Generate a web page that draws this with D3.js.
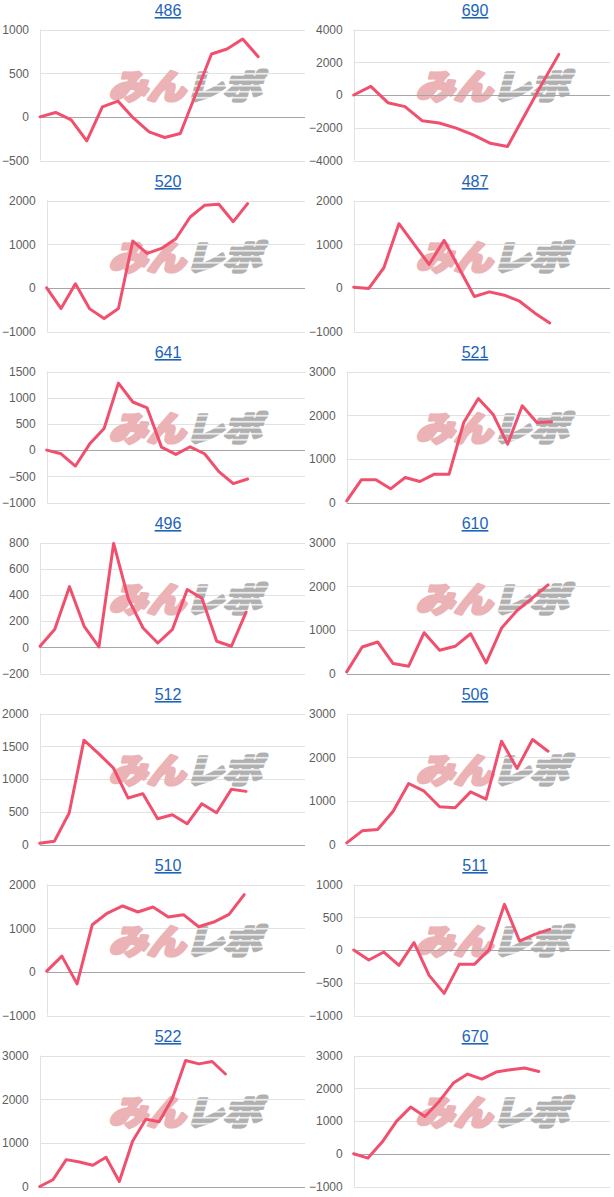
<!DOCTYPE html>
<html><head><meta charset="utf-8">
<script src="https://cdn.jsdelivr.net/npm/d3@7"></script>
<style>
html,body{margin:0;padding:0;background:#fff;}
svg{display:block;}
</style></head>
<body>
<svg id="chart" width="614" height="1197"></svg>
<script>
// ---- data ----
const titles = ["486","690","520","487","641","521","496","610","512","506","510","511","522","670"];
// number of x intervals shown on each chart's horizontal axis
const xSpans = [17,15,18,17,18,18,18,17,18,17,17,17,20,18];
const ticks486 = [-500,0,500,1000];
const ticks690 = [-4000,-2000,0,2000,4000];
const ticks520 = [-1000,0,1000,2000];
const ticks487 = [-1000,0,1000,2000];
const ticks641 = [-1000,-500,0,500,1000,1500];
const ticks521 = [0,1000,2000,3000];
const ticks496 = [-200,0,200,400,600,800];
const ticks610 = [0,1000,2000,3000];
const ticks512 = [0,500,1000,1500,2000];
const ticks506 = [0,1000,2000,3000];
const ticks510 = [-1000,0,1000,2000];
const ticks511 = [-1000,-500,0,500,1000];
const ticks522 = [0,1000,2000,3000];
const ticks670 = [-1000,0,1000,2000,3000];

const v486 = [0,50,-34,-275,115,180,-15,-172,-237,-191,265,719,777,891,689];
const v690 = [0,530,-470,-710,-1570,-1710,-2020,-2440,-2950,-3150,-1250,650,2480];
const v520 = [0,-474,92,-482,-704,-474,1071,788,903,1125,1622,1890,1913,1515,1928];
const v487 = [15,-15,460,1469,1000,536,1086,444,-199,-92,-168,-306,-574,-803];
const v641 = [0,-70,-304,120,411,1279,918,804,57,-82,63,-70,-411,-639,-551];
const v521 = [38,519,519,313,573,481,649,649,1832,2382,2023,1336,2214,1832,1847];
const v496 = [8,137,463,160,3,793,370,147,33,137,441,375,46,8,268];
const v610 = [38,608,722,228,167,934,532,623,911,243,1040,1443,1732,2028];
const v512 = [20,51,480,1592,1388,1168,709,776,393,454,316,622,485,842,811];
const v506 = [38,313,344,763,1397,1221,863,840,1206,1038,2366,1740,2405,2137];
const v510 = [15,360,-276,1079,1347,1508,1370,1485,1255,1309,1033,1140,1316,1768];
const v511 = [0,-153,-31,-234,112,-387,-662,-219,-219,10,697,137,239,316];
const v522 = [0,154,615,562,485,669,115,1038,1538,1485,2015,2885,2808,2862,2577];
const v670 = [0,-132,356,987,1425,1140,1598,2158,2433,2280,2494,2565,2616,2514];

const seriesList = [v486,v690,v520,v487,v641,v521,v496,v610,v512,v506,v510,v511,v522,v670];
const tickList = [ticks486,ticks690,ticks520,ticks487,ticks641,ticks521,ticks496,ticks610,ticks512,ticks506,ticks510,ticks511,ticks522,ticks670];

// ---- drawing ----
const svg = d3.select("#chart");
const FONT = "Arial, 'Liberation Sans', sans-serif";
const lineColor = "#f0506e";

const defs = svg.append("defs");
const pat = defs.append("pattern").attr("id","stripes").attr("patternUnits","userSpaceOnUse")
  .attr("width",10).attr("height",6);
pat.append("rect").attr("width",10).attr("height",6).attr("fill","#fff");
pat.append("rect").attr("width",10).attr("height",4.6).attr("fill","#b0b0b0");

const colW = 307, rowH = 171, firstTop = 29.5, plotH = 131;

// helper to measure label text
const measure = svg.append("text").attr("font-family",FONT).attr("font-size",12).attr("visibility","hidden");
function textW(s){ measure.text(s); return measure.node().getComputedTextLength(); }

titles.forEach((title,i)=>{
  const col = i % 2, row = Math.floor(i/2);
  const x0 = col*colW;
  const top = firstTop + row*rowH;
  const bottom = top + plotH;
  const ticks = tickList[i];
  const vals = seriesList[i];
  const tickFmt = d3.format("d");
  const maxW = d3.max(ticks, t=>textW(tickFmt(t)));
  const left = x0 + 2 + maxW + 11;
  const right = x0 + (col===0 ? 305 : 303);

  const x = d3.scaleLinear().domain([0, xSpans[i]]).range([left, right]);
  const y = d3.scaleLinear().domain(d3.extent(ticks)).range([bottom, top]);

  const g = svg.append("g");

  // gridlines
  g.append("g").selectAll("line").data(ticks.filter(t=>t!==0)).join("line")
    .attr("x1",left).attr("x2",right)
    .attr("y1",d=>Math.round(y(d))+0.5).attr("y2",d=>Math.round(y(d))+0.5)
    .attr("stroke","#e2e2e2").attr("stroke-width",1);
  // left axis line
  g.append("line").attr("x1",Math.round(left)+0.5).attr("x2",Math.round(left)+0.5)
    .attr("y1",top).attr("y2",bottom).attr("stroke","#e2e2e2");

  // watermark
  const wm = g.append("g").attr("transform",`translate(${x0+185},${top+69}) scale(1.12,1) skewX(-14)`);
  const wt = wm.append("text").attr("text-anchor","middle")
    .attr("font-family","'Noto Sans CJK JP', sans-serif").attr("font-weight",900)
    .attr("font-size",34).attr("stroke-linejoin","round").attr("stroke-width",3.2);
  wt.append("tspan").attr("fill","#ebb3b6").attr("stroke","#ebb3b6").text("みん");
  wt.append("tspan").attr("fill","url(#stripes)").attr("stroke","url(#stripes)").text("レポ");

  // zero baseline
  if (ticks.includes(0)) {
    g.append("line").attr("x1",left).attr("x2",right)
      .attr("y1",Math.round(y(0))+0.5).attr("y2",Math.round(y(0))+0.5)
      .attr("stroke","#a6a6a6").attr("stroke-width",1);
  }

  // y axis labels
  const axis = d3.axisLeft(y).tickValues(ticks).tickFormat(tickFmt).tickSize(0).tickPadding(11);
  const ag = g.append("g").attr("transform",`translate(${left},0)`).call(axis);
  ag.select(".domain").remove();
  ag.selectAll("text").attr("font-family",FONT).attr("font-size",12).attr("fill","#5e5e5e");

  // line
  const line = d3.line().x((d,k)=>x(k)).y(d=>y(d));
  g.append("path").datum(vals).attr("d",line).attr("fill","none")
    .attr("stroke",lineColor).attr("stroke-width",3)
    .attr("stroke-linejoin","round").attr("stroke-linecap","round");

  // title
  g.append("text").attr("x",x0+168).attr("y",top-13.5).attr("text-anchor","middle")
    .attr("font-family",FONT).attr("font-size",16).attr("fill","#1c64b8")
    .style("text-decoration","underline").text(title);
});
measure.remove();
</script>
</body></html>
